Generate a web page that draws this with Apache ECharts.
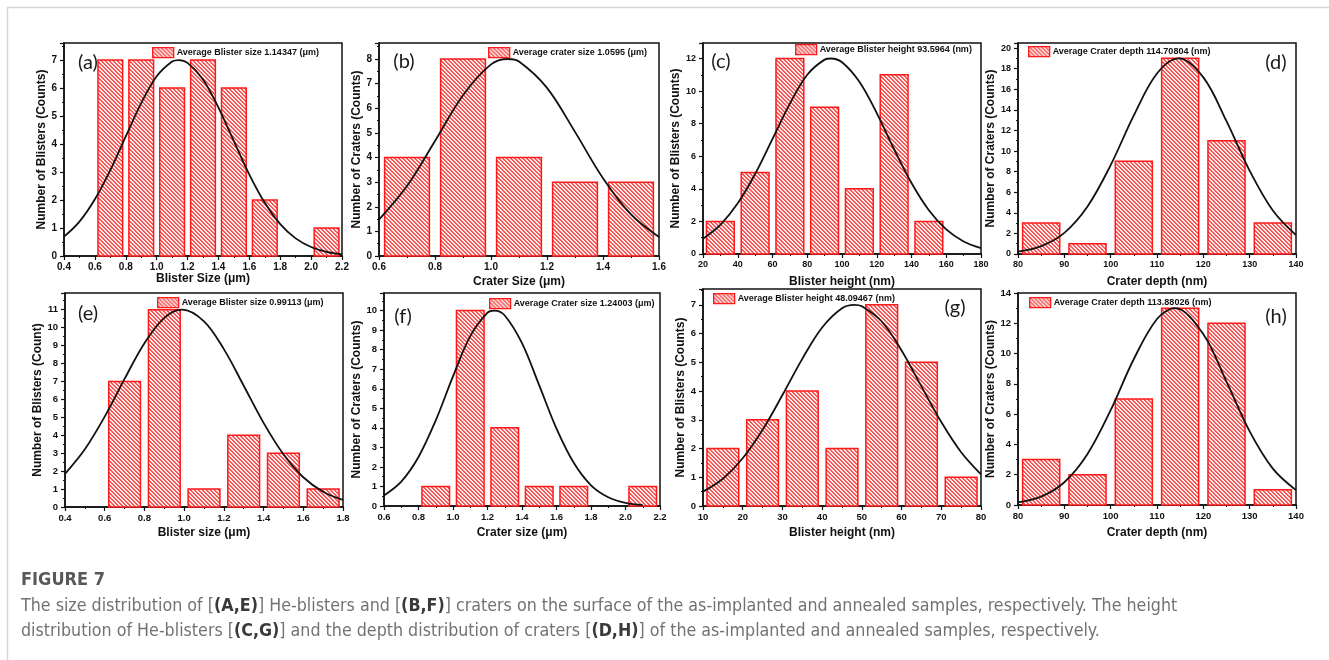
<!DOCTYPE html>
<html><head><meta charset="utf-8">
<script src="https://cdn.jsdelivr.net/npm/echarts@6/dist/echarts.min.js"></script>
<style>html,body{margin:0;padding:0;background:#fff}#c{width:1329px;height:660px}</style>
</head><body><div id="c"></div><script>
// ---------- DATA ----------
// (a) Blister size, as-implanted
const binsA = [0.7, 0.9, 1.1, 1.3, 1.5, 1.7, 2.1];
const countsA = [7, 7, 6, 7, 6, 2, 1];
const fitA = [[0.4,0.69],[0.5,1.23],[0.6,2.03],[0.7,3.07],[0.8,4.27],[0.9,5.46],[1.0,6.42],[1.1,6.95],[1.143,7.0],[1.2,6.90],[1.3,6.31],[1.4,5.30],[1.5,4.10],[1.6,2.91],[1.7,1.90],[1.8,1.14],[1.9,0.63],[2.0,0.32],[2.1,0.15],[2.2,0.06]];
const xTicksA = [0.4,0.6,0.8,1.0,1.2,1.4,1.6,1.8,2.0,2.2];
const yTicksA = [0,1,2,3,4,5,6,7];
// (b) Crater size, as-implanted
const binsB = [0.7, 0.9, 1.1, 1.3, 1.5];
const countsB = [4, 8, 4, 3, 3];
const fitB = [[0.6,1.48],[0.7,2.84],[0.8,4.67],[0.9,6.53],[1.0,7.78],[1.0595,8.0],[1.1,7.90],[1.2,6.83],[1.3,5.04],[1.4,3.16],[1.5,1.69],[1.6,0.77]];
const xTicksB = [0.6,0.8,1.0,1.2,1.4,1.6];
const yTicksB = [0,1,2,3,4,5,6,7,8];
// (c) Blister height, as-implanted
const binsC = [30, 50, 70, 90, 110, 130, 150];
const countsC = [2, 5, 12, 9, 4, 11, 2];
const fitC = [[20,0.94],[30,1.79],[40,3.11],[50,4.91],[60,7.06],[70,9.23],[80,11.0],[90,11.93],[93.6,12.0],[100,11.77],[110,10.57],[120,8.65],[130,6.43],[140,4.36],[150,2.69],[160,1.51],[170,0.77],[180,0.36]];
const xTicksC = [20,40,60,80,100,120,140,160,180];
const yTicksC = [0,2,4,6,8,10,12];
// (d) Crater depth, as-implanted
const binsD = [85, 95, 105, 115, 125, 135];
const countsD = [3, 1, 9, 19, 11, 3];
const fitD = [[80,0.23],[85,0.76],[90,2.05],[95,4.61],[100,8.63],[105,13.47],[110,17.53],[114.7,19.0],[120,17.15],[125,12.9],[130,8.08],[135,4.22],[140,1.83]];
const xTicksD = [80,90,100,110,120,130,140];
const yTicksD = [0,2,4,6,8,10,12,14,16,18,20];
// (e) Blister size, annealed
const binsE = [0.7, 0.9, 1.1, 1.3, 1.5, 1.7];
const countsE = [7, 11, 1, 4, 3, 1];
const fitE = [[0.4,1.85],[0.5,3.22],[0.6,5.04],[0.7,7.14],[0.8,9.13],[0.9,10.54],[0.99,11.0],[1.1,10.35],[1.2,8.80],[1.3,6.76],[1.4,4.69],[1.5,2.94],[1.6,1.66],[1.7,0.85],[1.8,0.39]];
const xTicksE = [0.4,0.6,0.8,1.0,1.2,1.4,1.6,1.8];
const yTicksE = [0,1,2,3,4,5,6,7,8,9,10,11];
// (f) Crater size, annealed
const binsF = [0.9, 1.1, 1.3, 1.5, 1.7, 2.1];
const countsF = [1, 10, 4, 1, 1, 1];
const fitF = [[0.6,0.54],[0.7,1.25],[0.8,2.51],[0.9,4.38],[1.0,6.63],[1.1,8.69],[1.2,9.89],[1.24,10.0],[1.3,9.75],[1.4,8.33],[1.5,6.17],[1.6,3.96],[1.7,2.21],[1.8,1.06],[1.9,0.45],[2.0,0.16],[2.1,0.05]];
const xTicksF = [0.6,0.8,1.0,1.2,1.4,1.6,1.8,2.0,2.2];
const yTicksF = [0,1,2,3,4,5,6,7,8,9,10];
// (g) Blister height, annealed
const binsG = [15, 25, 35, 45, 55, 65, 75];
const countsG = [2, 3, 4, 2, 7, 5, 1];
const fitG = [[10,0.50],[15,0.95],[20,1.66],[25,2.65],[30,3.86],[35,5.12],[40,6.21],[45,6.88],[48.1,7.0],[50,6.95],[55,6.42],[60,5.41],[65,4.16],[70,2.92],[75,1.87],[80,1.10]];
const xTicksG = [10,20,30,40,50,60,70,80];
const yTicksG = [0,1,2,3,4,5,6,7];
// (h) Crater depth, annealed
const binsH = [85, 95, 105, 115, 125, 135];
const countsH = [3, 2, 7, 13, 12, 1];
const fitH = [[80,0.17],[85,0.55],[90,1.50],[95,3.37],[100,6.26],[105,9.64],[110,12.28],[113.9,13.0],[120,11.28],[125,8.14],[130,4.86],[135,2.40],[140,0.98]];
const xTicksH = [80,90,100,110,120,130,140];
const yTicksH = [0,2,4,6,8,10,12,14];

const legendTexts = [
  'Average Blister size 1.14347 (μm)', 'Average crater size 1.0595 (μm)',
  'Average Blister height 93.5964 (nm)', 'Average Crater depth 114.70804 (nm)',
  'Average Blister size 0.99113 (μm)', 'Average Crater size 1.24003 (μm)',
  'Average Blister height 48.09467 (nm)', 'Average Crater depth 113.88026 (nm)'
];
const xNames = ['Blister Size (μm)','Crater Size (μm)','Blister height (nm)','Crater depth (nm)',
  'Blister size (μm)','Crater size (μm)','Blister height (nm)','Crater depth (nm)'];
const yNames = ['Number of Blisters (Counts)','Number of Craters (Counts)','Number of Blisters (Counts)','Number of Craters (Counts)',
  'Number of Blisters (Count)','Number of Craters (Counts)','Number of Blisters (Counts)','Number of Craters (Counts)'];
const tags = ['(a)','(b)','(c)','(d)','(e)','(f)','(g)','(h)'];
const captionTitle = 'FIGURE 7';

// ---------- LAYOUT / STYLE ----------
const FONT = "'Liberation Sans', Arial, sans-serif";
const layout = [
  {grid:{left:64,top:43,width:278,height:213}, yMax:7.61, binW:0.16, dec:1, tf:10, xGap:17, yGap:16, leg:[152,47], tag:[88,63]},
  {grid:{left:379,top:43,width:280,height:213}, yMax:8.65, binW:0.16, dec:1, tf:10, xGap:20, yGap:15, leg:[488,47], tag:[404,62]},
  {grid:{left:703,top:43,width:278,height:211}, yMax:12.95, binW:16, dec:0, tf:9, xGap:22, yGap:21, leg:[795,44], tag:[721,62]},
  {grid:{left:1018,top:43,width:278,height:211}, yMax:20.49, binW:8, dec:0, tf:9, xGap:22, yGap:20, leg:[1028,46], tag:[1276,63]},
  {grid:{left:65,top:293,width:278,height:214}, yMax:11.93, binW:0.16, dec:1, tf:9.5, xGap:20, yGap:20, leg:[157,297], tag:[88,314]},
  {grid:{left:384,top:293,width:276,height:213}, yMax:10.9, binW:0.16, dec:1, tf:9.5, xGap:21, yGap:11, leg:[489,298], tag:[403,317]},
  {grid:{left:703,top:289,width:278,height:217}, yMax:7.55, binW:8, dec:0, tf:9.5, xGap:21, yGap:11, leg:[713,293], tag:[955,308]},
  {grid:{left:1018,top:293,width:278,height:212}, yMax:14, binW:8, dec:0, tf:9.5, xGap:22, yGap:18, leg:[1029,297], tag:[1276,317]}
];

const panels = [
  {bins:binsA, counts:countsA, fit:fitA, xT:xTicksA, yT:yTicksA},
  {bins:binsB, counts:countsB, fit:fitB, xT:xTicksB, yT:yTicksB},
  {bins:binsC, counts:countsC, fit:fitC, xT:xTicksC, yT:yTicksC},
  {bins:binsD, counts:countsD, fit:fitD, xT:xTicksD, yT:yTicksD},
  {bins:binsE, counts:countsE, fit:fitE, xT:xTicksE, yT:yTicksE},
  {bins:binsF, counts:countsF, fit:fitF, xT:xTicksF, yT:yTicksF},
  {bins:binsG, counts:countsG, fit:fitG, xT:xTicksG, yT:yTicksG},
  {bins:binsH, counts:countsH, fit:fitH, xT:xTicksH, yT:yTicksH}
];

function makeHatch() {
  const c = document.createElement('canvas');
  c.width = 4; c.height = 4;
  const g = c.getContext('2d');
  g.fillStyle = '#ffe8e8'; g.fillRect(0, 0, 4, 4);
  g.fillStyle = '#f45a5a';
  for (let i = 0; i < 4; i++) { g.fillRect(i, i, 1, 1); g.fillRect((i + 1) % 4, i, 1, 1); }
  return c;
}
const hatchCanvas = makeHatch();
const hatch = {image: hatchCanvas, repeat: 'repeat'};

const grids = [], xAxes = [], yAxes = [], series = [], legends = [], graphics = [];
panels.forEach((p, i) => {
  const L = layout[i];
  grids.push(Object.assign({show:true, borderColor:'#111', borderWidth:1.5, backgroundColor:'#fff'}, L.grid));
  const xInt = +(p.xT[1] - p.xT[0]).toFixed(6);
  const yInt = p.yT[1] - p.yT[0];
  xAxes.push({
    type:'value', gridIndex:i, min:p.xT[0], max:p.xT[p.xT.length-1], interval:xInt,
    axisLine:{show:true, onZero:false, lineStyle:{color:'#111', width:1.5}},
    axisTick:{show:true, inside:false, length:4, lineStyle:{color:'#111', width:1.2}},
    minorTick:{show:true, splitNumber:2, length:2, lineStyle:{color:'#111', width:1}},
    splitLine:{show:false},
    axisLabel:{margin:6, fontSize:L.tf, fontWeight:'bold', color:'#111', fontFamily:FONT,
      formatter: v => v.toFixed(L.dec)},
    name:xNames[i], nameLocation:'middle', nameGap:L.xGap,
    nameTextStyle:{fontSize:12, fontWeight:'bold', color:'#111', fontFamily:FONT}
  });
  yAxes.push({
    type:'value', gridIndex:i, min:0, max:L.yMax, interval:yInt,
    axisLine:{show:true, onZero:false, lineStyle:{color:'#111', width:1.5}},
    axisTick:{show:true, inside:false, length:4, lineStyle:{color:'#111', width:1.2}},
    minorTick:{show:true, splitNumber:2, length:2, lineStyle:{color:'#111', width:1}},
    splitLine:{show:false},
    axisLabel:{margin:7, fontSize:L.tf, fontWeight:'bold', color:'#111', fontFamily:FONT,
      formatter: v => (p.yT.indexOf(v) >= 0 ? String(v) : '')},
    name:yNames[i], nameLocation:'middle', nameGap:L.yGap,
    nameTextStyle:{fontSize:12, fontWeight:'bold', color:'#111', fontFamily:FONT}
  });
  const hw = L.binW / 2;
  series.push({
    type:'custom', name:legendTexts[i], xAxisIndex:i, yAxisIndex:i, z:2,
    itemStyle:{color:hatch, borderColor:'#ff1a1a', borderWidth:1.5},
    data:p.bins.map((b, k) => [b, p.counts[k]]),
    renderItem:(params, api) => {
      const c = api.value(0), v = api.value(1);
      const p0 = api.coord([c - hw, v]);
      const p1 = api.coord([c + hw, 0]);
      return {type:'rect', shape:{x:p0[0], y:p0[1], width:p1[0]-p0[0], height:p1[1]-p0[1]},
        style:{fill:hatch, stroke:'#ff1a1a', lineWidth:1.5}};
    }
  });
  series.push({
    type:'line', name:'fit' + i, xAxisIndex:i, yAxisIndex:i, z:3, data:p.fit,
    smooth:0.35, showSymbol:false, symbol:'none', silent:true,
    lineStyle:{color:'#111', width:1.8}
  });
  legends.push({
    left:L.leg[0], top:L.leg[1], padding:0, itemWidth:21, itemHeight:10, itemGap:0,
    selectedMode:false, orient:'horizontal',
    textStyle:{fontSize:9, fontWeight:'bold', color:'#111', fontFamily:FONT, padding:[0,0,0,-2]},
    data:[{name:legendTexts[i], icon:'rect', itemStyle:{color:hatch, borderColor:'#ff1a1a', borderWidth:1.3}}]
  });
  graphics.push({type:'text', x:L.tag[0], y:L.tag[1], z:10,
    style:{text:tags[i], fontSize:20, fontFamily:"Lato, 'Open Sans', sans-serif", fill:'#1a1a1a', align:'center', verticalAlign:'middle'}});
});

// page frame + caption
graphics.push({type:'line', shape:{x1:7, y1:7.5, x2:1329, y2:7.5}, style:{stroke:'#d6d6d6', lineWidth:1.5}});
graphics.push({type:'line', shape:{x1:7.5, y1:7, x2:7.5, y2:660}, style:{stroke:'#d6d6d6', lineWidth:1.5}});
const CAP_FONT = "'Liberation Sans Narrow', 'DejaVu Sans Condensed', 'Open Sans', sans-serif";
graphics.push({type:'text', left:21, top:571,
  style:{text:captionTitle, fontSize:18, fontWeight:'bold', fontFamily:CAP_FONT, fill:'#585858'}});
const capRich = {
  n:{fontSize:17.7, fontFamily:CAP_FONT, fill:'#727272'},
  b:{fontSize:17.7, fontFamily:CAP_FONT, fill:'#3a3a3a', fontWeight:'bold'}
};
graphics.push({type:'text', left:21, top:597, style:{rich:capRich,
  text:'{n|The size distribution of [}{b|(A,E)}{n|] He-blisters and [}{b|(B,F)}{n|] craters on the surface of the as-implanted and annealed samples, respectively. The height}'}});
graphics.push({type:'text', left:21, top:622, style:{rich:capRich,
  text:'{n|distribution of He-blisters [}{b|(C,G)}{n|] and the depth distribution of craters [}{b|(D,H)}{n|] of the as-implanted and annealed samples, respectively.}'}});

const chart = echarts.init(document.getElementById('c'), null, {renderer:'canvas'});
chart.setOption({
  animation:false, backgroundColor:'#fff',
  grid:grids, xAxis:xAxes, yAxis:yAxes, series:series, legend:legends, graphic:graphics
});
</script></body></html>
